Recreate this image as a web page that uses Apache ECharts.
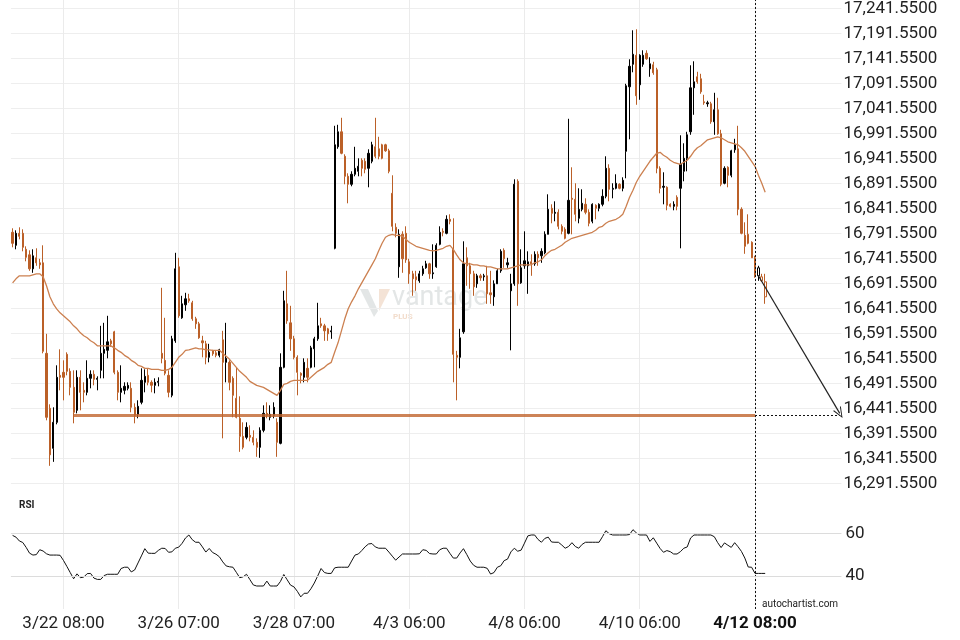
<!DOCTYPE html>
<html><head><meta charset="utf-8">
<script src="https://cdn.jsdelivr.net/npm/echarts@6/dist/echarts.min.js"></script>
<style>html,body{margin:0;padding:0;background:#fff}#c{width:960px;height:640px}</style>
</head><body><div id="c"></div>
<script>
// ---- data ----
const OPEN = [16794,16768,16792,16792,16760,16749,16721,16743,16733,16733,
16552,16442,16362,16414,16508,16514,16550,16516,16484,16438,
16504,16478,16474,16502,16510,16500,16518,16552,16558,16577,
16595,16514,16474,16478,16482,16482,16444,16430,16454,16494,
16508,16494,16488,16494,16552,16538,16508,16468,16577,16725,
16623,16649,16661,16653,16621,16611,16577,16571,16544,16557,
16553,16548,16579,16534,16534,16502,16462,16422,16386,16384,
16388,16384,16374,16364,16398,16432,16424,16428,16414,16372,
16524,16651,16613,16581,16544,16512,16504,16522,16524,16561,
16581,16611,16607,16601,16595,16762,16965,16995,16946,16906,
16890,16910,16916,16938,16936,16922,16936,16965,16961,16969,
16969,16957,16872,16804,16725,16790,16792,16735,16711,16705,
16697,16711,16723,16731,16711,16725,16770,16796,16792,16820,
16760,16548,16544,16595,16743,16727,16711,16691,16707,16705,
16707,16673,16665,16691,16717,16758,16729,16677,16691,16896,
16693,16727,16727,16735,16731,16750,16747,16753,16790,16842,
16832,16834,16806,16800,16792,16862,16860,16822,16840,16850,
16834,16816,16848,16842,16850,16866,16922,16880,16882,16890,
16882,16956,17085,17130,17148,17089,17130,17152,17121,17129,
17119,16922,16884,16884,16850,16846,16864,16882,16916,16942,
16995,17083,17105,17101,17055,17051,17051,17015,17039,16991,
16892,16924,16908,16959,16961,16840,16788,16790,16774,16743,
16707,16705,16695];
const CLOSE = [16772,16792,16786,16764,16744,16721,16747,16733,16729,16556,
16424,16349,16414,16504,16504,16504,16516,16484,16434,16504,
16474,16474,16502,16510,16500,16502,16552,16560,16575,16571,
16514,16474,16482,16486,16488,16444,16428,16446,16498,16506,
16494,16488,16494,16496,16542,16512,16474,16581,16721,16627,
16651,16661,16657,16621,16611,16583,16573,16544,16554,16551,
16548,16559,16534,16542,16494,16468,16424,16386,16364,16404,
16384,16374,16364,16398,16432,16428,16430,16444,16374,16524,
16657,16617,16581,16544,16514,16508,16534,16504,16563,16581,
16607,16607,16597,16591,16597,16969,16995,16952,16906,16890,
16910,16922,16926,16922,16920,16952,16969,16946,16946,16942,
16957,16916,16806,16792,16790,16741,16739,16711,16701,16699,
16711,16721,16731,16711,16713,16768,16794,16794,16820,16816,
16550,16544,16583,16731,16727,16711,16685,16707,16703,16707,
16671,16669,16691,16717,16756,16741,16733,16691,16890,16691,
16723,16737,16735,16731,16750,16743,16756,16790,16840,16832,
16834,16806,16796,16782,16858,16860,16830,16840,16852,16834,
16812,16850,16842,16850,16866,16922,16880,16882,16892,16882,
16898,17087,17126,17150,17067,17148,17148,17141,17131,17113,
16922,16882,16886,16848,16846,16850,16846,16930,16942,16989,
17083,17095,17095,17075,17053,17053,17015,17039,16991,16890,
16922,16908,16957,16969,16840,16792,16766,16772,16743,16707,
16723,16697,16665];
const LOW = [16764,16760,16780,16756,16736,16717,16713,16727,16721,16552,
16418,16327,16335,16410,16478,16458,16508,16468,16412,16432,
16438,16454,16468,16482,16488,16478,16502,16502,16542,16565,
16510,16458,16454,16470,16478,16434,16412,16422,16450,16474,
16488,16474,16472,16486,16532,16508,16464,16464,16573,16623,
16621,16637,16653,16617,16601,16581,16544,16530,16534,16547,
16544,16544,16382,16494,16478,16424,16422,16355,16360,16380,
16376,16368,16345,16343,16394,16422,16418,16422,16345,16370,
16522,16611,16557,16540,16468,16492,16494,16494,16522,16524,
16577,16603,16577,16577,16581,16760,16961,16950,16890,16852,
16886,16906,16906,16906,16912,16884,16932,16942,16940,16940,
16955,16912,16796,16784,16703,16713,16733,16691,16667,16677,
16693,16707,16721,16701,16701,16723,16768,16786,16790,16810,
16494,16458,16522,16591,16687,16681,16667,16683,16697,16697,
16651,16651,16647,16691,16713,16723,16723,16558,16687,16647,
16691,16721,16671,16707,16727,16727,16733,16750,16790,16812,
16816,16800,16790,16780,16790,16790,16816,16812,16836,16830,
16806,16812,16820,16836,16846,16862,16856,16862,16880,16880,
16876,16902,16980,17114,17049,17059,17125,17139,17105,17109,
16912,16872,16850,16838,16844,16838,16838,16762,16896,16916,
16989,17029,17091,17071,17049,17045,17011,16989,16989,16886,
16890,16884,16904,16953,16828,16790,16751,16770,16743,16703,
16697,16695,16651];
const HIGH = [16802,16798,16804,16800,16766,16758,16760,16762,16741,16768,
16591,16450,16444,16528,16560,16538,16554,16522,16518,16518,
16518,16494,16538,16518,16518,16506,16607,16613,16627,16581,
16597,16518,16528,16494,16494,16494,16452,16458,16522,16520,
16522,16498,16502,16504,16683,16623,16518,16587,16753,16743,
16667,16673,16671,16657,16625,16615,16587,16577,16571,16559,
16557,16561,16597,16613,16538,16506,16524,16466,16414,16414,
16408,16398,16382,16404,16448,16454,16448,16454,16422,16552,
16677,16717,16647,16587,16548,16514,16542,16542,16567,16585,
16653,16623,16611,16603,16607,17007,17009,17023,16950,16912,
16916,16965,16942,16942,16942,16960,16975,17023,16985,16971,
16971,16961,16908,16812,16800,16796,16806,16741,16717,16717,
16717,16727,16737,16733,16770,16772,16806,16802,16828,16830,
16822,16557,16601,16776,16764,16733,16717,16711,16711,16711,
16727,16717,16698,16721,16760,16762,16743,16711,16900,16900,
16760,16796,16756,16750,16756,16756,16762,16796,16870,16850,
16856,16840,16810,16804,17021,16924,16892,16882,16880,16862,
16840,16852,16850,16852,16880,16946,16930,16892,16910,16892,
16904,17091,17140,17198,17200,17150,17158,17158,17144,17135,
17123,16926,16914,16886,16852,16856,16868,16988,16972,16995,
17128,17136,17115,17111,17069,17057,17055,17073,17063,16999,
16926,16926,16959,16981,17007,16844,16814,16830,16776,16747,
16727,16711,16711];
const MA = [16693,16701,16707,16707,16707,16707,16709,16711,16711,16705,
16687,16665,16651,16641,16633,16627,16621,16615,16607,16601,
16593,16587,16583,16577,16573,16567,16567,16567,16567,16567,
16563,16558,16554,16548,16544,16538,16534,16528,16526,16522,
16522,16520,16520,16520,16518,16518,16520,16524,16534,16544,
16550,16558,16559,16561,16563,16561,16561,16559,16559,16558,
16558,16558,16552,16546,16540,16532,16524,16516,16510,16504,
16496,16492,16488,16486,16484,16480,16476,16472,16468,16478,
16490,16492,16496,16498,16498,16498,16498,16498,16504,16510,
16516,16520,16524,16530,16534,16554,16573,16597,16621,16641,
16655,16667,16681,16693,16705,16717,16729,16741,16757,16772,
16784,16788,16790,16788,16788,16786,16780,16774,16770,16766,
16764,16762,16760,16758,16757,16758,16760,16762,16766,16768,
16760,16749,16739,16733,16731,16731,16729,16729,16727,16727,
16725,16725,16723,16721,16721,16721,16721,16723,16725,16727,
16729,16729,16729,16729,16733,16735,16739,16747,16753,16758,
16760,16764,16768,16774,16778,16782,16784,16786,16788,16790,
16792,16794,16798,16804,16806,16812,16816,16818,16820,16824,
16830,16846,16864,16878,16894,16906,16916,16926,16936,16944,
16952,16954,16948,16944,16938,16934,16932,16930,16934,16938,
16946,16956,16963,16967,16973,16979,16981,16983,16985,16983,
16979,16975,16973,16971,16969,16963,16956,16946,16936,16926,
16908,16892,16874];
const RSI = [59.0,58.2,56.4,55.7,53.4,50.7,49.8,50.0,52.3,51.7,
50.4,49.8,49.8,49.8,49.7,47.3,44.5,41.6,38.7,41.0,
39.2,39.5,41.1,41.2,39.0,38.4,38.4,40.2,40.8,40.8,
40.8,40.8,43.5,44.1,44.1,41.9,42.8,46.1,49.4,52.8,
50.7,50.6,50.6,52.0,53.0,52.9,51.1,51.3,53.0,53.5,
55.3,57.8,59.2,57.0,55.8,55.8,53.6,51.2,52.9,51.0,
50.2,49.0,46.6,44.7,44.3,44.1,41.7,39.2,39.6,40.8,
38.3,35.8,35.3,35.3,35.3,37.6,35.3,35.3,35.3,37.4,
40.7,38.2,35.7,34.9,32.8,30.2,31.9,31.9,34.0,36.7,
40.0,43.5,41.6,41.2,41.2,43.8,44.1,44.1,44.1,44.1,
47.0,49.8,50.3,51.9,53.7,55.0,55.2,53.6,53.0,53.0,
53.0,51.2,49.3,47.4,48.9,50.3,50.3,50.3,50.3,50.3,
50.4,52.3,52.0,50.5,50.3,50.3,52.3,53.0,53.0,50.6,
48.4,48.4,50.8,52.8,50.0,47.0,45.0,44.1,44.1,44.1,
43.6,40.9,41.6,44.1,44.8,47.2,47.9,51.3,53.0,51.6,
52.1,55.4,58.8,59.2,59.2,57.1,55.8,57.6,58.2,55.9,
55.8,55.8,54.5,53.0,53.8,55.6,53.8,53.0,54.8,55.8,
55.8,55.8,55.8,55.8,58.4,61.2,59.8,59.2,59.2,59.2,
59.2,59.2,59.4,61.7,60.2,59.2,59.2,59.2,56.2,57.9,
55.4,52.9,51.1,51.9,51.4,50.3,50.3,51.4,53.0,53.6,
57.8,59.2,59.2,59.2,59.2,59.2,59.2,58.4,55.6,53.3,
55.5,54.4,53.4,55.6,53.7,51.5,48.4,44.2,44.1,41.2,
41.2,41.2,41.2];
const TICK_LABELS = ['3/22 08:00','3/26 07:00','3/28 07:00','4/3 06:00','4/8 06:00','4/10 06:00','4/12 08:00'];
const FIRST_LABEL_INDEX = 15;
const LABEL_STEP = 34;
const TOTAL_SLOTS = 245;          // bars + empty space on the right
const FORMING_FROM = 220;         // last candles drawn hollow
const CURRENT_INDEX = 219;        // 4/12 08:00
const SUPPORT_LEVEL = 16428;
const SUPPORT_FROM = 18;
const ARROW_FROM = [220, 16707];
const TARGET = [244, 16432];
const PRICE_TICK_MIN = 16241.55, PRICE_TICK_MAX = 17241.55, PRICE_STEP = 50;
const RSI_LABELS = [40, 60];

// ---- chart ----
const ORANGE = '#bb6028';
const OFFSET = PRICE_TICK_MIN - Math.floor(PRICE_TICK_MIN / PRICE_STEP) * PRICE_STEP; // 41.55
const sh = v => v - OFFSET;
const chart = echarts.init(document.getElementById('c'), null, {renderer: 'canvas', width: 960, height: 640});
const cats = Array.from({length: TOTAL_SLOTS}, (_, i) => String(i));
const labelAt = {};
TICK_LABELS.forEach((t, k) => { labelAt[FIRST_LABEL_INDEX + k * LABEL_STEP] = t; });
const isLabel = i => labelAt[i] !== undefined;
const candles = OPEN.map((o, i) => i < FORMING_FROM ? [sh(o), sh(CLOSE[i]), sh(LOW[i]), sh(HIGH[i])] : '-');
const forming = OPEN.map((o, i) => i >= FORMING_FROM ? [sh(o), sh(CLOSE[i]), sh(LOW[i]), sh(HIGH[i])] : '-');
const fmt = v => v.toLocaleString('en-US', {minimumFractionDigits: 4, maximumFractionDigits: 4});
const FONT = 'Roboto';
const dash = {color: '#111', width: 1, type: [2, 2]};
const supportStyle = {color: 'rgba(193,100,45,0.8)', width: 3, type: 'solid'};
const arrowStyle = {color: '#222', width: 1.2, type: 'solid'};
const GX = 10.9, GW = 830.55;

const xCommon = {
  type: 'category', data: cats, boundaryGap: true,
  axisLine: {show: false}, axisTick: {show: false}, splitLine: {show: false}
};

chart.setOption({
  animation: false,
  textStyle: {fontFamily: FONT},
  grid: [
    {left: GX, width: GW, top: 5.96, height: 502.6},
    {left: GX, width: GW, top: 490.6, height: 117.4},
    {left: GX, width: GW, top: 0, height: 609}
  ],
  xAxis: [
    Object.assign({}, xCommon, {gridIndex: 0, axisLabel: {show: false}}),
    Object.assign({}, xCommon, {gridIndex: 1, axisLabel: {
      show: true, interval: (i) => isLabel(i), margin: 7, color: '#222', fontSize: 17, fontFamily: FONT,
      formatter: (v) => { const i = Number(v); const t = labelAt[i] || ''; return i === CURRENT_INDEX ? '{b|' + t + '}' : t; },
      rich: {b: {fontWeight: 'bold', fontSize: 17, fontFamily: FONT, color: '#111'}}
    }}),
    Object.assign({}, xCommon, {gridIndex: 2, axisLabel: {show: false},
      splitLine: {show: true, interval: (i) => isLabel(i), alignWithLabel: true, lineStyle: {color: '#ebebeb', width: 1}}})
  ],
  yAxis: [
    {type: 'value', gridIndex: 0, position: 'right', min: sh(PRICE_TICK_MIN), max: sh(PRICE_TICK_MAX), interval: PRICE_STEP,
     axisLine: {show: false}, axisTick: {show: false},
     axisLabel: {showMinLabel: false, showMaxLabel: true, margin: 2, padding: [3, 0, 0, 0], color: '#222', fontSize: 17, fontFamily: FONT,
       formatter: v => fmt(v + OFFSET)},
     splitLine: {show: true, showMinLine: false, showMaxLine: true, lineStyle: {color: '#eeeeee'}}},
    {type: 'value', gridIndex: 1, position: 'right', min: 25, max: 80, interval: 5,
     axisLine: {show: false}, axisTick: {show: false},
     axisLabel: {margin: 4, padding: [4, 0, 0, 0], color: '#222', fontSize: 17, fontFamily: FONT,
       formatter: v => RSI_LABELS.indexOf(v) >= 0 ? String(v) : ''},
     splitLine: {show: false}},
    {type: 'value', gridIndex: 2, min: 0, max: 1, show: false}
  ],
  series: [
    {type: 'line', xAxisIndex: 2, yAxisIndex: 2, data: [], z: 1, silent: true,
     markLine: {silent: true, symbol: ['none', 'none'], label: {show: false}, emphasis: {disabled: true},
       data: [{xAxis: CURRENT_INDEX, lineStyle: dash}]}},
    {type: 'candlestick', xAxisIndex: 0, yAxisIndex: 0, data: candles, barWidth: 1.7,
     itemStyle: {color: '#000', color0: ORANGE, borderColor: '#000', borderColor0: ORANGE, borderWidth: 1},
     emphasis: {disabled: true},
     markLine: {silent: true, symbol: ['none', 'none'], label: {show: false}, emphasis: {disabled: true},
       data: [
         [{coord: [SUPPORT_FROM, sh(SUPPORT_LEVEL)], lineStyle: supportStyle}, {coord: [CURRENT_INDEX, sh(SUPPORT_LEVEL)], lineStyle: supportStyle}],
         [{coord: [CURRENT_INDEX, sh(SUPPORT_LEVEL)], lineStyle: dash}, {coord: [TARGET[0], sh(SUPPORT_LEVEL)], lineStyle: dash}],
         [{coord: [ARROW_FROM[0], sh(ARROW_FROM[1])], lineStyle: arrowStyle, symbol: 'none'},
          {coord: [TARGET[0], sh(TARGET[1])], lineStyle: arrowStyle, symbol: 'path://M0,12 L5,0 L10,12 L8.8,12 L5,2.6 L1.2,12 Z', symbolSize: [9, 11]}]
       ]}},
    {type: 'candlestick', xAxisIndex: 0, yAxisIndex: 0, data: forming, barWidth: 2.6,
     itemStyle: {color: '#fff', color0: '#fff', borderColor: '#000', borderColor0: ORANGE, borderWidth: 1},
     emphasis: {disabled: true}},
    {type: 'line', xAxisIndex: 0, yAxisIndex: 0, data: MA.map(sh), symbol: 'none', silent: true,
     lineStyle: {color: '#cc8050', width: 1.3}},
    {type: 'line', xAxisIndex: 1, yAxisIndex: 1, data: RSI, symbol: 'none', silent: true,
     lineStyle: {color: '#111', width: 1},
     markLine: {silent: true, symbol: ['none', 'none'], label: {show: false}, emphasis: {disabled: true},
       data: [
         {yAxis: 40, lineStyle: {color: '#dcdcdc', width: 1, type: 'solid'}},
         {yAxis: 60, lineStyle: {color: '#dcdcdc', width: 1, type: 'solid'}}
       ]}}
  ],
  graphic: [
    {type: 'polygon', shape: {points: [[360,289],[368,289],[378,311],[374,317]]}, style: {fill: '#e3e6e6'}},
    {type: 'polygon', shape: {points: [[379,289],[390,289],[379,311]]}, style: {fill: '#f4e3d6'}},
    {type: 'text', left: 392, top: 285, style: {text: 'vantage', font: '27px Roboto', fill: '#e3e6e6'}},
    {type: 'text', left: 393, top: 313, style: {text: 'PLUS', font: 'bold 8px Roboto', fill: '#f2dccb'}},
    {type: 'text', left: 19, top: 500, style: {text: 'RSI', font: 'bold 10px Roboto', fill: '#222'}},
    {type: 'text', left: 762, top: 599, style: {text: 'autochartist.com', font: '10px Roboto', fill: '#222'}}
  ]
});
</script>
</body></html>
